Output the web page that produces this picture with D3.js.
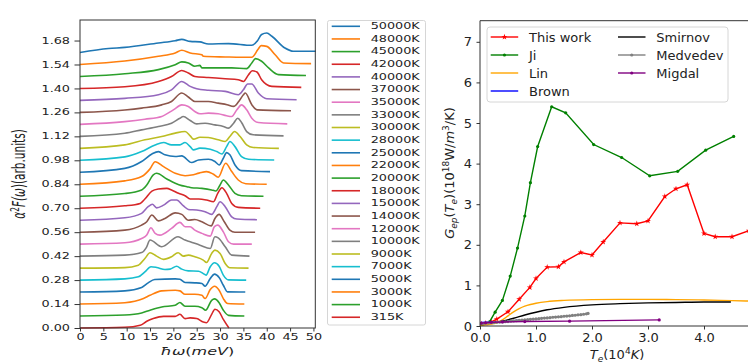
<!DOCTYPE html>
<html>
<head>
<meta charset="utf-8">
<script src="https://cdn.jsdelivr.net/npm/d3@7"></script>
<style>
  body { margin: 0; background: #fff; }
  svg { font-family: "DejaVu Sans", sans-serif; }
</style>
</head>
<body>
<svg id="chart" width="748" height="364"></svg>
<script>
// ---- left panel: alpha^2 F(omega) spectra, [meV, value above baseline]
const s315K = [[0,0],[9.6,0.004],[12.9,0.016],[14.3,0.039],[15.7,0.055],[17.9,0.068],[20.4,0.068],[21.4,0.08],[22.5,0.055],[23.6,0.059],[25,0.055],[26.4,0.035],[27.1,0.031],[28.2,0.08],[28.9,0.11],[29.8,0.095],[30.7,0.05],[31.9,0]];
const s1000K = [[0,0],[9.6,0.006],[13.2,0.018],[15,0.034],[17.5,0.053],[20.4,0.063],[21.4,0.079],[22.5,0.057],[24.6,0.057],[26.1,0.049],[26.9,0.034],[28.2,0.092],[28.8,0.1],[29.8,0.078],[30.7,0.034],[31.8,0.004],[35.2,0]];
const s3000K = [[0,0],[9.6,0.008],[13.6,0.032],[15,0.051],[17.5,0.077],[20.4,0.081],[21.4,0.077],[22.5,0.057],[24.6,0.057],[26.1,0.051],[26.8,0.032],[27.9,0.085],[28.8,0.104],[29.8,0.081],[30.7,0.032],[31.6,0.003],[35.2,0]];
const s5000K = [[0,0],[9.6,0.007],[13.2,0.027],[14.6,0.054],[16,0.073],[20.4,0.077],[21.4,0.075],[22.5,0.056],[24.6,0.054],[26.1,0.05],[26.8,0.034],[27.9,0.079],[28.8,0.105],[29.8,0.085],[30.7,0.04],[31.6,0.001],[35.4,0]];
const s7000K = [[0,0],[9.6,0.007],[12.5,0.019],[13.9,0.048],[15.2,0.078],[16.4,0.074],[18.2,0.062],[19.3,0.064],[20.7,0.081],[21.8,0.064],[23.2,0.054],[25.4,0.052],[26.4,0.038],[27,0.029],[27.9,0.078],[28.8,0.101],[29.8,0.081],[30.7,0.029],[31.8,0.001],[35.6,0]];
const s9000K = [[0,0],[9.6,0.003],[12.5,0.017],[13.9,0.056],[15,0.09],[16.4,0.07],[17.9,0.051],[19.6,0.066],[21,0.09],[22.1,0.07],[23.2,0.076],[24.6,0.066],[26.4,0.047],[27.1,0.033],[28.2,0.086],[28.9,0.105],[30,0.086],[31.1,0.027],[32.1,0.002],[36.1,0]];
const s10000K = [[0,0],[9.6,0.006],[13.2,0.021],[14.2,0.05],[15,0.094],[17.5,0.055],[21,0.113],[22.5,0.094],[23.6,0.084],[25.7,0.064],[27.9,0.045],[28.9,0.113],[29.6,0.107],[31.1,0.055],[32.5,0.006],[36.3,0]];
const s12000K = [[0,0],[9.6,0.008],[13.2,0.033],[14.3,0.053],[15.2,0.096],[16.1,0.063],[17.1,0.053],[19.6,0.092],[21.4,0.127],[22.5,0.102],[23.6,0.102],[24.6,0.082],[26.1,0.063],[27.9,0.047],[28.8,0.102],[29.5,0.111],[30.7,0.072],[31.8,0.014],[32.9,0],[36.8,0]];
const s14000K = [[0,0],[9.6,0.012],[13.2,0.041],[14.3,0.061],[15.4,0.1],[16.8,0.066],[18.2,0.08],[20.4,0.113],[21.8,0.104],[23.2,0.07],[24.6,0.074],[26.1,0.061],[28.1,0.037],[28.9,0.08],[29.8,0.104],[30.9,0.061],[32.1,0.012],[33.2,0],[37.5,0]];
const s15000K = [[0,0],[9.6,0.014],[13.2,0.04],[14.6,0.079],[15.5,0.093],[16.4,0.072],[17.9,0.088],[19.6,0.118],[20.7,0.118],[22.1,0.085],[23.2,0.063],[25,0.06],[26.8,0.05],[28.2,0.034],[29.3,0.079],[30,0.108],[31.1,0.079],[32.5,0.02],[33.6,0.007],[37.9,0.003]];
const s18000K = [[0,0],[9.6,0.014],[12.9,0.028],[13.9,0.054],[15.4,0.1],[16.8,0.112],[18.6,0.116],[19.6,0.107],[21.1,0.087],[22.5,0.073],[23.6,0.054],[25.4,0.054],[27.1,0.048],[28.6,0.038],[29.5,0.087],[30.4,0.12],[31.4,0.087],[32.5,0.028],[33.9,0.005],[38.6,0]];
const s20000K = [[0,0],[9.6,0.016],[13.2,0.037],[14.3,0.066],[15.7,0.125],[16.4,0.134],[18.6,0.101],[20.4,0.076],[21.8,0.062],[22.9,0.056],[23.9,0.05],[26.1,0.046],[28.2,0.037],[29.1,0.031],[30,0.066],[30.7,0.095],[31.8,0.066],[33.2,0.017],[34.6,0.003],[39.3,0]];
const s22000K = [[0,0],[9.6,0.02],[13.2,0.045],[15,0.09],[16.1,0.132],[17.9,0.103],[20.4,0.064],[22.5,0.05],[23.9,0.054],[25.5,0.065],[27.1,0.074],[28.5,0.06],[29.6,0.041],[31.2,0.123],[32.5,0.074],[33.9,0.025],[35.5,0.003],[40,0]];
const s25000K = [[0,0],[9.6,0.023],[13.2,0.063],[15.4,0.107],[16.8,0.121],[18.2,0.102],[20.4,0.092],[21.8,0.096],[23.9,0.057],[25.4,0.072],[27.5,0.076],[28.9,0.063],[29.8,0.043],[30.7,0.082],[31.4,0.115],[32.1,0.102],[33.2,0.043],[34.6,0.01],[40.7,0.004]];
const s28000K = [[0,0],[9.6,0.02],[13.2,0.051],[16.1,0.09],[17.9,0.104],[19.6,0.09],[21.4,0.09],[22.5,0.104],[23.6,0.08],[24.3,0.061],[25.7,0.071],[27.9,0.065],[29.3,0.051],[30.4,0.037],[31.4,0.08],[32.1,0.11],[33.2,0.08],[34.6,0.022],[36.1,0.006],[41.6,0.002]];
const s30000K = [[0,0],[9.6,0.02],[13.9,0.05],[17.5,0.069],[20.4,0.089],[22.5,0.098],[23.6,0.073],[24.3,0.054],[25.7,0.065],[27.5,0.063],[29.6,0.05],[31.1,0.04],[32.1,0.069],[33.1,0.098],[34.3,0.069],[35.7,0.02],[37.1,0.005],[42.6,0]];
const s33000K = [[0,0],[9.6,0.018],[13.2,0.038],[16.8,0.058],[19.6,0.077],[21.4,0.106],[22.1,0.116],[23.6,0.093],[25,0.073],[26.8,0.077],[28.9,0.067],[30.7,0.058],[31.8,0.048],[32.9,0.077],[33.8,0.106],[34.6,0.081],[35.7,0.028],[37.1,0.009],[43.6,0.003]];
const s35000K = [[0,0],[9.6,0.016],[13.9,0.03],[17.5,0.046],[20,0.085],[21.8,0.114],[23.2,0.105],[24.6,0.075],[25.7,0.062],[27.5,0.066],[29.6,0.062],[31.4,0.05],[32.5,0.046],[33.6,0.085],[34.6,0.114],[35.7,0.085],[36.8,0.036],[38.2,0.011],[44.4,0.003]];
const s37000K = [[0,0],[9.6,0.014],[13.2,0.025],[17.5,0.044],[19.6,0.064],[21.8,0.113],[23.2,0.09],[24.6,0.064],[27.5,0.064],[29.6,0.054],[31.5,0.045],[32.9,0.035],[34,0.064],[35,0.103],[35.4,0.113],[36.8,0.045],[37.9,0.015],[45.2,0.01]];
const s40000K = [[0,0],[9.6,0.012],[16.8,0.033],[19.6,0.062],[21.8,0.111],[23.6,0.082],[25,0.068],[27.5,0.059],[31.1,0.053],[33.9,0.033],[35,0.062],[35.9,0.096],[36.8,0.096],[38.2,0.043],[40,0.01],[46.4,0.004]];
const s42000K = [[0,0],[9.6,0.01],[16.8,0.041],[19.6,0.07],[21.8,0.105],[23.2,0.09],[24.6,0.07],[27.5,0.064],[31.1,0.057],[33.9,0.051],[35,0.041],[36.1,0.08],[36.9,0.103],[37.9,0.096],[38.9,0.051],[41.1,0.012],[47.4,0.006]];
const s45000K = [[0,0],[9.6,0.016],[16.8,0.04],[20.4,0.069],[21.8,0.085],[23.2,0.079],[24.6,0.06],[25.7,0.065],[26.1,0.05],[28.9,0.05],[32.5,0.05],[35.7,0.046],[36.8,0.079],[37.6,0.104],[38.9,0.089],[40.4,0.05],[42.5,0.011],[48.4,0.006]];
const s48000K = [[0,0],[9.6,0.02],[16.8,0.048],[20.4,0.067],[21.8,0.083],[23.6,0.067],[26.1,0.057],[26.4,0.048],[31.1,0.044],[34.6,0.042],[36.8,0.042],[38.1,0.087],[38.8,0.11],[40,0.106],[41.8,0.057],[43.6,0.009],[49.5,0.005]];
const s50000K = [[0,0],[6.1,0.023],[9.6,0.03],[16.8,0.056],[20.4,0.069],[21.8,0.077],[23.6,0.065],[25.7,0.062],[27.5,0.05],[31.8,0.052],[36.8,0.042],[37.9,0.065],[38.9,0.105],[40,0.114],[41.1,0.095],[43.9,0.026],[45.7,0.007],[50.5,0.007]];

// legend order (top to bottom), same as plot order
const tempLabels = ["50000K","48000K","45000K","42000K","40000K","37000K","35000K","33000K","30000K","28000K","25000K","22000K","20000K","18000K","15000K","14000K","12000K","10000K","9000K","7000K","5000K","3000K","1000K","315K"];
const spectra = [s50000K,s48000K,s45000K,s42000K,s40000K,s37000K,s35000K,s33000K,s30000K,s28000K,s25000K,s22000K,s20000K,s18000K,s15000K,s14000K,s12000K,s10000K,s9000K,s7000K,s5000K,s3000K,s1000K,s315K];
const offsetStep = 0.07;
const yTicksLeft = [0,0.14,0.28,0.42,0.56,0.70,0.84,0.98,1.12,1.26,1.40,1.54,1.68];
const xTicksLeft = [0,5,10,15,20,25,30,35,40,45,50];

// ---- right panel: G_ep(T_e), [T_e (1e4 K), G (1e18 W/m^3/K)]
const thisWork = [[0.03,0.05],[0.1,0.07],[0.2,0.1],[0.3,0.17],[0.5,0.35],[0.7,0.66],[0.89,0.95],[1.0,1.17],[1.2,1.45],[1.4,1.46],[1.5,1.58],[1.8,1.81],[2.0,1.75],[2.2,2.07],[2.5,2.54],[2.8,2.52],[3.0,2.59],[3.3,3.19],[3.5,3.38],[3.7,3.48],[4.0,2.28],[4.2,2.2],[4.5,2.2],[4.8,2.35]];
const ji = [[0.03,0.02],[0.17,0.1],[0.27,0.34],[0.4,0.63],[0.54,1.23],[0.67,1.92],[0.8,2.71],[0.9,3.53],[1.03,4.42],[1.28,5.40],[1.53,5.25],[2.03,4.47],[2.53,4.15],[3.03,3.70],[3.53,3.81],[4.03,4.33],[4.53,4.67]];
const lin = [[0,0.02],[0.1,0.03],[0.2,0.05],[0.3,0.08],[0.4,0.15],[0.5,0.25],[0.6,0.35],[0.7,0.43],[0.8,0.49],[0.9,0.53],[1.0,0.56],[1.2,0.6],[1.5,0.63],[2.0,0.65],[2.5,0.655],[3.0,0.655],[3.5,0.65],[4.0,0.64],[4.5,0.625],[5.0,0.61]];
const brown = [[0.02,0.09],[0.2,0.1],[0.4,0.11],[0.6,0.13],[0.7,0.14]];
const smirnov = [[0.02,0.07],[0.2,0.08],[0.4,0.12],[0.6,0.19],[0.8,0.27],[1.0,0.34],[1.2,0.4],[1.5,0.46],[2.0,0.52],[2.5,0.55],[3.0,0.57],[3.5,0.58],[4.0,0.59],[4.48,0.59]];
const medvedev = [[0.05,0.06],[0.1,0.07],[0.15,0.075],[0.2,0.08],[0.25,0.085],[0.3,0.09],[0.35,0.095],[0.4,0.1],[0.45,0.105],[0.5,0.11],[0.55,0.12],[0.6,0.125],[0.65,0.13],[0.7,0.14],[0.75,0.145],[0.8,0.15],[0.85,0.155],[0.9,0.165],[0.95,0.17],[1.0,0.175],[1.05,0.18],[1.1,0.19],[1.15,0.195],[1.2,0.2],[1.25,0.205],[1.3,0.215],[1.35,0.22],[1.4,0.225],[1.45,0.23],[1.5,0.24],[1.55,0.245],[1.6,0.25],[1.65,0.26],[1.7,0.265],[1.75,0.275],[1.8,0.28],[1.85,0.29],[1.9,0.3],[1.93,0.31]];
const migdal = [[0.02,0.07],[0.1,0.08],[0.2,0.09],[0.4,0.1],[0.8,0.11],[1.6,0.12],[3.2,0.15]];
const yTicksRight = [0,1,2,3,4,5,6,7];
const xTicksRight = [0,1,2,3,4];

const svg = d3.select("#chart");
const SX = 1.6; // left panel is horizontally stretched in the figure

function rich(text, parts, size, subSize, supUp, subDown) {
  let cur = 0;
  parts.forEach(p => {
    const shift = p.sup ? -supUp : p.sub ? subDown : 0;
    text.append("tspan")
      .attr("dy", shift - cur)
      .attr("font-size", p.sup || p.sub ? subSize : size)
      .attr("font-style", p.it ? "italic" : "normal")
      .text(p.t);
    cur = shift;
  });
}

// ================= left panel
const xL = d3.scaleLinear().domain([0, 50.4]).range([80, 315.3]);
const yL = d3.scaleLinear().domain([0, 1.8]).range([328, 20]);
const gL = svg.append("g");
const color = d3.schemeCategory10;

spectra.forEach((s, i) => {
  const off = (spectra.length - 1 - i) * offsetStep;
  gL.append("path")
    .datum(s)
    .attr("fill", "none")
    .attr("stroke", color[i % 10])
    .attr("stroke-width", 1.6)
    .attr("d", d3.line()
      .x(d => xL(d[0]))
      .y(d => yL(d[1] + off))
      .curve(d3.curveMonotoneX));
});

const ayL = gL.append("g")
  .attr("transform", "translate(80,0)")
  .call(d3.axisLeft(yL).tickValues(yTicksLeft).tickFormat(d3.format(".2f")).tickSize(5.5).tickPadding(4.5));
const axL = gL.append("g")
  .attr("transform", "translate(0,328)")
  .call(d3.axisBottom(xL).tickValues(xTicksLeft).tickSize(3.5).tickPadding(2.5));
[ayL, axL].forEach(g => {
  g.select(".domain").remove();
  g.attr("font-size", 8).attr("font-family", "DejaVu Sans");
  g.selectAll(".tick line").attr("stroke", "#333");
  g.selectAll(".tick text").attr("fill", "#222").each(function () {
    const t = d3.select(this);
    const x = +t.attr("x") || 0;
    t.attr("x", x / SX).attr("transform", `scale(${SX},1)`);
  });
});

gL.append("rect")
  .attr("x", 80).attr("y", 20).attr("width", 235.3).attr("height", 308)
  .attr("fill", "none").attr("stroke", "#333").attr("stroke-width", 1);

const yLab = gL.append("text")
  .attr("transform", `translate(25,174) scale(${SX},1) rotate(-90)`)
  .attr("text-anchor", "middle").attr("fill", "#222");
rich(yLab, [{t: "α", it: 1}, {t: "2", sup: 1}, {t: "F(", it: 1}, {t: "ω", it: 1}, {t: ")(arb.units)"}], 10.5, 7.5, 4, 2);

const xLab = gL.append("text")
  .attr("transform", `translate(197.5,355) scale(${SX},1)`)
  .attr("text-anchor", "middle").attr("fill", "#222");
rich(xLab, [{t: "ħω", it: 1}, {t: "("}, {t: "meV", it: 1}, {t: ")"}], 10, 7, 3, 2);

// left legend
const legL = gL.append("g");
legL.append("rect")
  .attr("x", 327.5).attr("y", 20.5).attr("width", 98).attr("height", 304.5)
  .attr("rx", 2).attr("fill", "#fff").attr("stroke", "#d6d6d6");
tempLabels.forEach((lab, i) => {
  const y = 26.3 + i * 12.65;
  legL.append("line")
    .attr("x1", 331.7).attr("x2", 360).attr("y1", y).attr("y2", y)
    .attr("stroke", color[i % 10]).attr("stroke-width", 1.6);
  legL.append("text")
    .attr("transform", `translate(370.7,${y}) scale(${SX},1)`)
    .attr("dy", "0.35em").attr("font-size", 8).attr("fill", "#222")
    .text(lab);
});

// ================= right panel
const xR = d3.scaleLinear().domain([0, 4.9]).range([480, 754.4]);
const yR = d3.scaleLinear().domain([0, 7.52]).range([326, 20.7]);
const gR = svg.append("g");

svg.append("clipPath").attr("id", "clipR")
  .append("rect").attr("x", 480).attr("y", 20.7).attr("width", 274.4).attr("height", 305.3);

const series = [
  {name: "This work", data: thisWork, color: "#ff0000", marker: "star"},
  {name: "Ji", data: ji, color: "#008000", marker: "dot"},
  {name: "Lin", data: lin, color: "#ffa500", marker: null},
  {name: "Brown", data: brown, color: "#0000ff", marker: null},
  {name: "Smirnov", data: smirnov, color: "#000000", marker: null},
  {name: "Medvedev", data: medvedev, color: "#808080", marker: "dot"},
  {name: "Migdal", data: migdal, color: "#800080", marker: "dot"}
];
const star = d3.symbol(d3.symbolStar).size(11);

const plotR = gR.append("g").attr("clip-path", "url(#clipR)");
function drawMarker(g, s, x, y) {
  if (s.marker === "star") {
    g.append("path").attr("d", star()).attr("transform", `translate(${x},${y})`).attr("fill", s.color);
  } else if (s.marker === "dot") {
    g.append("circle").attr("cx", x).attr("cy", y).attr("r", 1.6).attr("fill", s.color);
  }
}
series.forEach(s => {
  plotR.append("path")
    .datum(s.data)
    .attr("fill", "none")
    .attr("stroke", s.color)
    .attr("stroke-width", 1.4)
    .attr("d", d3.line().x(d => xR(d[0])).y(d => yR(d[1])).curve(s.marker ? d3.curveLinear : d3.curveMonotoneX));
  if (s.marker) s.data.forEach(d => drawMarker(plotR, s, xR(d[0]), yR(d[1])));
});

const ayR = gR.append("g")
  .attr("transform", "translate(480,0)")
  .call(d3.axisLeft(yR).tickValues(yTicksRight).tickSize(3.5).tickPadding(4.5));
const axR = gR.append("g")
  .attr("transform", "translate(0,326)")
  .call(d3.axisBottom(xR).tickValues(xTicksRight).tickSize(3.5).tickPadding(3));
[ayR, axR].forEach(g => {
  g.select(".domain").remove();
  g.attr("font-size", 13).attr("font-family", "DejaVu Sans");
  g.selectAll(".tick line").attr("stroke", "#333");
  g.selectAll(".tick text").attr("fill", "#222");
});
gR.append("path")
  .attr("d", `M754.4,20.7H480V326H754.4`)
  .attr("fill", "none").attr("stroke", "#333").attr("stroke-width", 1);

const xLabR = gR.append("text")
  .attr("transform", "translate(617,359)")
  .attr("text-anchor", "middle").attr("fill", "#222");
rich(xLabR, [{t: "T", it: 1}, {t: "e", it: 1, sub: 1}, {t: "(10"}, {t: "4", sup: 1}, {t: "K", it: 1}, {t: ")"}], 13, 9, 5, 3);

const yLabR = gR.append("text")
  .attr("transform", "translate(454,173) rotate(-90)")
  .attr("text-anchor", "middle").attr("fill", "#222");
rich(yLabR, [{t: "G", it: 1}, {t: "ep", it: 1, sub: 1}, {t: "("}, {t: "T", it: 1}, {t: "e", it: 1, sub: 1}, {t: ")(10"}, {t: "18", sup: 1}, {t: "W/"}, {t: "m", it: 1}, {t: "3", sup: 1}, {t: "/K)"}], 13, 9, 5, 3);

// right legend
const legR = gR.append("g");
legR.append("rect")
  .attr("x", 487).attr("y", 27).attr("width", 241).attr("height", 75)
  .attr("rx", 3).attr("fill", "#fff").attr("fill-opacity", 0.8).attr("stroke", "#d6d6d6");
series.forEach((s, i) => {
  const col = i < 4 ? 0 : 1;
  const row = i < 4 ? i : i - 4;
  const x0 = col === 0 ? 490.7 : 618;
  const y = 37 + row * 18;
  legR.append("line")
    .attr("x1", x0).attr("x2", x0 + 27.5).attr("y1", y).attr("y2", y)
    .attr("stroke", s.color).attr("stroke-width", 1.4);
  drawMarker(legR, s, x0 + 13.75, y);
  legR.append("text")
    .attr("x", x0 + 38.3).attr("y", y).attr("dy", "0.35em")
    .attr("font-size", 13).attr("fill", "#222")
    .text(s.name);
});
</script>
</body>
</html>
